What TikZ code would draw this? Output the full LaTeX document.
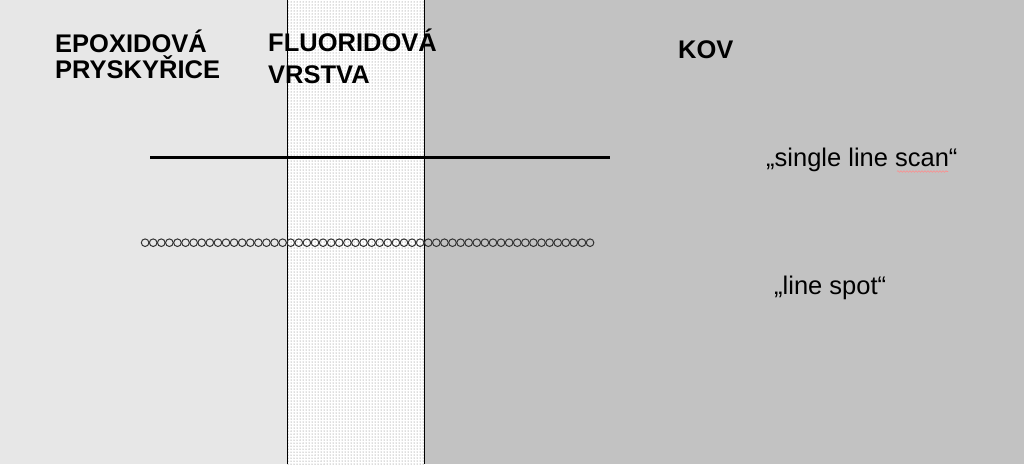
\documentclass[tikz,border=0pt]{standalone}
\usepackage{fontspec}
\setmainfont{Liberation Sans}
\usetikzlibrary{patterns,decorations.pathmorphing}
\definecolor{epoxy}{RGB}{231,231,231}
\definecolor{metal}{RGB}{194,194,194}
\definecolor{dotgray}{RGB}{110,110,110}
\tikzset{
  layerlabel/.style={anchor=base west, inner sep=0pt, font=\fontsize{25.5}{26}\selectfont\bfseries},
  notelabel/.style={anchor=base west, inner sep=0pt, font=\fontsize{25.5}{26}\selectfont},
  spot/.style={circle, draw=black!80, line width=1pt, minimum size=7.6pt, inner sep=0pt},
  scanline/.style={line width=3pt, black},
  border/.style={line width=1pt, black},
  squiggle/.style={red!45, line width=0.6pt, decorate, decoration={snake, amplitude=0.8pt, segment length=3pt}}
}
\begin{document}
\begin{tikzpicture}[x=1pt,y=-1pt]
\useasboundingbox (0,0) rectangle (1024,464);
% layers
\fill[epoxy] (0,0) rectangle (287,464);
\fill[white] (287,0) rectangle (424,464);
\fill[pattern=dots, pattern color=dotgray] (287,0) rectangle (424,464);
\fill[metal] (424,0) rectangle (1024,464);
\draw[border] (287,0) -- (287,464);
\draw[border] (424,0) -- (424,464);
% labels
\node[layerlabel] (ep1) at (55,52) {EPOXIDOVÁ};
\node[layerlabel] (ep2) at (55,78.3) {PRYSKYŘICE};
\node[layerlabel] (fl1) at (268,51.7) {FLUORIDOVÁ};
\node[layerlabel] (fl2) at (268,83.3) {VRSTVA};
\node[layerlabel] (kov) at (678,58) {KOV};
\node[notelabel] (sls) at (766,166) {„single line scan“};
\node[notelabel] (lsp) at (774,294) {„line spot“};
% single line scan
\coordinate (ls) at (150,157.5);
\coordinate (le) at (610,157.5);
\draw[scanline] (ls) -- (le);
% spell-check squiggle
\coordinate (q1) at (897,171.5);
\coordinate (q2) at (948,171.5);
\draw[squiggle] (q1) -- (q2);
% line spots
\foreach \i in {0,...,55} {
  \node[spot] (s\i) at ({145.1+8.09*\i},242.7) {};
}
\end{tikzpicture}
\end{document}
